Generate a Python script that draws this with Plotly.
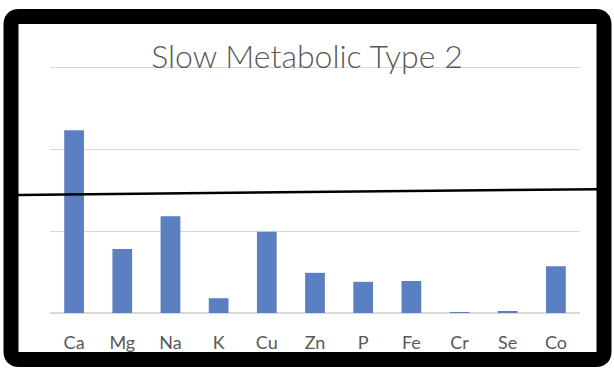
import plotly.graph_objects as go

categories = ["Ca", "Mg", "Na", "K", "Cu", "Zn", "P", "Fe", "Cr", "Se", "Co"]
values = [2.23, 0.78, 1.18, 0.18, 0.99, 0.49, 0.38, 0.39, 0.01, 0.02, 0.57]
reference_line = [1.44, 1.51]
title_text = "Slow Metabolic Type 2"

W, H = 614, 372
L, R, T, B = 50, 34, 59, 59
pw, ph = W - L - R, H - T - B
y_top = ph / 82.0

def px(x):
    return (x - L) / pw

def py(y):
    return (H - B - y) / ph

fig = go.Figure()
fig.add_trace(go.Bar(x=categories, y=values, marker=dict(color="#5A80C2", line=dict(width=0)),
                     hoverinfo="skip"))

# black rounded frame (drawn as path in paper coords)
x0, x1, y0, y1 = 11, 604, 16.5, 359.5
r = 8
path = (f"M {px(x0+r)},{py(y0)} L {px(x1-r)},{py(y0)} Q {px(x1)},{py(y0)} {px(x1)},{py(y0+r)} "
        f"L {px(x1)},{py(y1-r)} Q {px(x1)},{py(y1)} {px(x1-r)},{py(y1)} "
        f"L {px(x0+r)},{py(y1)} Q {px(x0)},{py(y1)} {px(x0)},{py(y1-r)} "
        f"L {px(x0)},{py(y0+r)} Q {px(x0)},{py(y0)} {px(x0+r)},{py(y0)} Z")
fig.add_shape(type="path", path=path, xref="paper", yref="paper",
              line=dict(color="black", width=15), fillcolor="rgba(0,0,0,0)")

# hand-drawn black line across chart
fig.add_shape(type="line", xref="paper", yref="y", x0=px(18), x1=px(598),
              y0=reference_line[0], y1=reference_line[1],
              line=dict(color="black", width=2.5))

fig.update_layout(
    width=W, height=H,
    margin=dict(l=L, r=R, t=T, b=B),
    paper_bgcolor="white", plot_bgcolor="white",
    bargap=0.59,
    showlegend=False,
    font=dict(family="Lato, Open Sans, sans-serif", color="#595959"),
    title=dict(text=title_text, x=0.5, xref="container", xanchor="center",
               y=1 - 57 / H, yref="container", yanchor="middle",
               font=dict(size=32, color="#595959", weight=300,
                         family="Lato, Open Sans, sans-serif")),
)
fig.update_xaxes(showline=False, showgrid=False, ticks="", tickfont=dict(size=18, color="#595959"),
                 ticklabelstandoff=17, fixedrange=True)
fig.update_yaxes(range=[0, y_top], tickvals=[0, 1, 2, 3], showticklabels=False, showgrid=True,
                 gridcolor="#D9D9D9", gridwidth=1, zeroline=True, zerolinecolor="#D9D9D9",
                 zerolinewidth=1.5, fixedrange=True)

fig.write_html("out.html", config={"displayModeBar": False},
               post_script="document.body.style.margin='0';")
